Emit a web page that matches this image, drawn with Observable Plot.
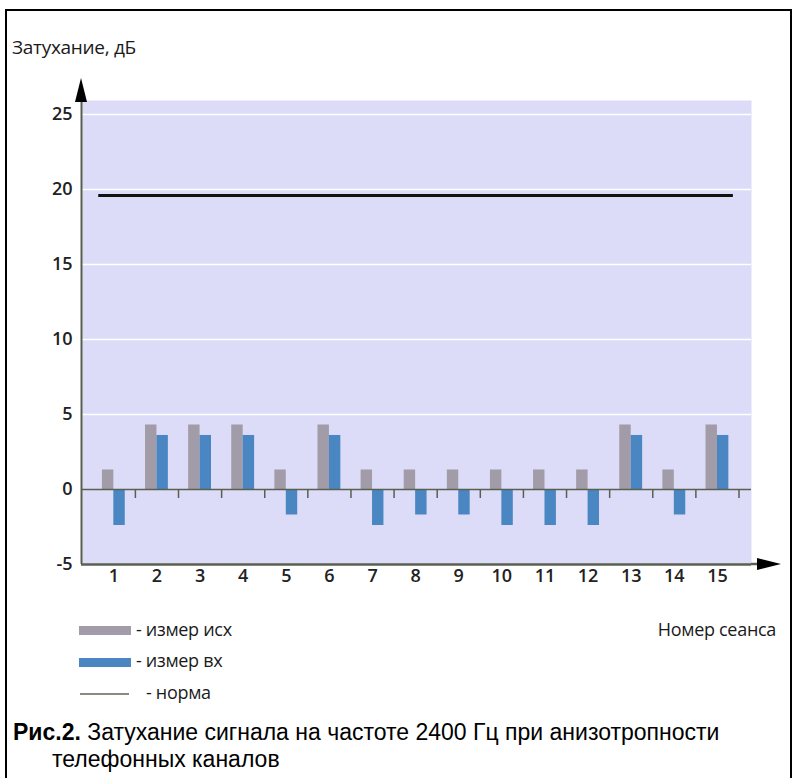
<!DOCTYPE html>
<html>
<head>
<meta charset="utf-8">
<script src="https://cdn.jsdelivr.net/npm/d3@7"></script>
<script src="https://cdn.jsdelivr.net/npm/@observablehq/plot@0.6"></script>
<style>
  html, body { margin: 0; padding: 0; background: #fff; }
  body { width: 794px; height: 778px; position: relative; overflow: hidden; font-family: "Open Sans", "DejaVu Sans", sans-serif; }
  #frame { position: absolute; left: 5px; top: 9px; width: 787px; height: 820px; border: 2.5px solid #000; box-sizing: border-box; }
  #chart { position: absolute; left: 0; top: 0; }
  .lbl { position: absolute; font-size: 18px; color: #1a1a1a; white-space: nowrap; letter-spacing: -0.3px; }
  .sw { position: absolute; }
  #caption { position: absolute; left: 13px; top: 719px; font-family: "Liberation Sans", Arial, sans-serif; font-size: 23px; line-height: 27px; color: #000; }
</style>
</head>
<body>
<div id="frame"></div>
<div id="chart"></div>
<div class="lbl" style="left:12px; top:34px; font-size:19px;">Затухание, дБ</div>
<div class="sw" style="left:79px; top:626px; width:52px; height:9px; background:#a29ba8;"></div>
<div class="lbl" style="left:136px; top:617px;">- измер исх</div>
<div class="sw" style="left:79px; top:658px; width:52px; height:9px; background:#4a87c2;"></div>
<div class="lbl" style="left:136px; top:648px;">- измер вх</div>
<div class="sw" style="left:80px; top:693px; width:49px; height:2px; background:#8a8a80;"></div>
<div class="lbl" style="left:146px; top:680px;">- норма</div>
<div class="lbl" style="right:18px; top:617px;">Номер сеанса</div>
<div id="caption"><b>Рис.2.</b> Затухание сигнала на частоте 2400 Гц при анизотропности<br><span style="padding-left:39px">телефонных каналов</span></div>
<script>
// Data
const sessions = [1, 2, 3, 4, 5, 6, 7, 8, 9, 10, 11, 12, 13, 14, 15];
const izmerIsh = [1.3, 4.3, 4.3, 4.3, 1.3, 4.3, 1.3, 1.3, 1.3, 1.3, 1.3, 1.3, 4.3, 1.3, 4.3];
const izmerVh = [-2.4, 3.6, 3.6, 3.6, -1.7, 3.6, -2.4, -1.7, -1.7, -2.4, -2.4, -2.4, 3.6, -1.7, 3.6];
const norma = [19.6];
const yTicks = [-5, 0, 5, 10, 15, 20, 25];
const gridValues = [5, 10, 15, 20, 25];

const rows = sessions.map((s, i) => ({s, ish: izmerIsh[i], vh: izmerVh[i]}));
const bw = 0.265;
const xDomain = [0.25, 15.79];
const yDomain = [-5, 25.93];
const axisColor = "#58604f";

const plot = Plot.plot({
  width: 794,
  height: 600,
  marginLeft: 81,
  marginRight: 43,
  marginTop: 100,
  marginBottom: 36,
  style: {fontFamily: "'Open Sans', sans-serif", fontSize: "18px", fontWeight: 600, color: "#222", background: "transparent", overflow: "visible"},
  x: {type: "linear", domain: xDomain},
  y: {type: "linear", domain: yDomain},
  marks: [
    Plot.frame({fill: "#dcdcf8", stroke: null}),
    Plot.ruleY(gridValues, {stroke: "#ffffff", strokeWidth: 1.6}),
    Plot.rectY(rows, {x1: d => d.s - bw, x2: d => d.s, y1: 0, y2: "ish", fill: "#a29ba8"}),
    Plot.rectY(rows, {x1: d => d.s, x2: d => d.s + bw, y1: 0, y2: "vh", fill: "#4a87c2"}),
    Plot.ruleY([0], {stroke: axisColor, strokeWidth: 1.5}),
    Plot.ruleX(sessions, {x: d => d + 0.5, y1: 0, y2: -0.6, stroke: axisColor, strokeWidth: 1.5}),
    Plot.ruleY(norma, {x1: sessions[0] - 0.35, x2: sessions[sessions.length - 1] + 0.37, stroke: "#111", strokeWidth: 3}),
    Plot.ruleX([xDomain[0]], {y1: yDomain[0], y2: yDomain[1], stroke: axisColor, strokeWidth: 2}),
    Plot.ruleY([yDomain[0]], {stroke: axisColor, strokeWidth: 2.5}),
    Plot.axisY(yTicks, {tickSize: 0, tickPadding: 9, label: null, fontSize: 18, tickFormat: d => String(d)}),
    Plot.axisX(sessions, {tickSize: 0, tickPadding: 5, label: null, fontSize: 18})
  ]
});
document.getElementById("chart").appendChild(plot);

// Axis arrow heads (decoration), positioned through the plot's scales
const xs = plot.scale("x"), ys = plot.scale("y");
const x0 = xs.apply(xDomain[0]), xEnd = xs.apply(xDomain[1]);
const yTop = ys.apply(yDomain[1]), yBot = ys.apply(yDomain[0]);
const svg = d3.select(plot);
svg.append("line").attr("x1", xEnd).attr("x2", xEnd + 8).attr("y1", yBot).attr("y2", yBot)
  .attr("stroke", axisColor).attr("stroke-width", 2.5);
svg.append("polygon")
  .attr("points", `${x0 - 6},${yTop + 2} ${x0 + 6},${yTop + 2} ${x0},${yTop - 22}`)
  .attr("fill", "#000");
svg.append("polygon")
  .attr("points", `${xEnd + 6},${yBot - 6} ${xEnd + 6},${yBot + 6} ${xEnd + 30},${yBot}`)
  .attr("fill", "#000");
</script>
</body>
</html>
